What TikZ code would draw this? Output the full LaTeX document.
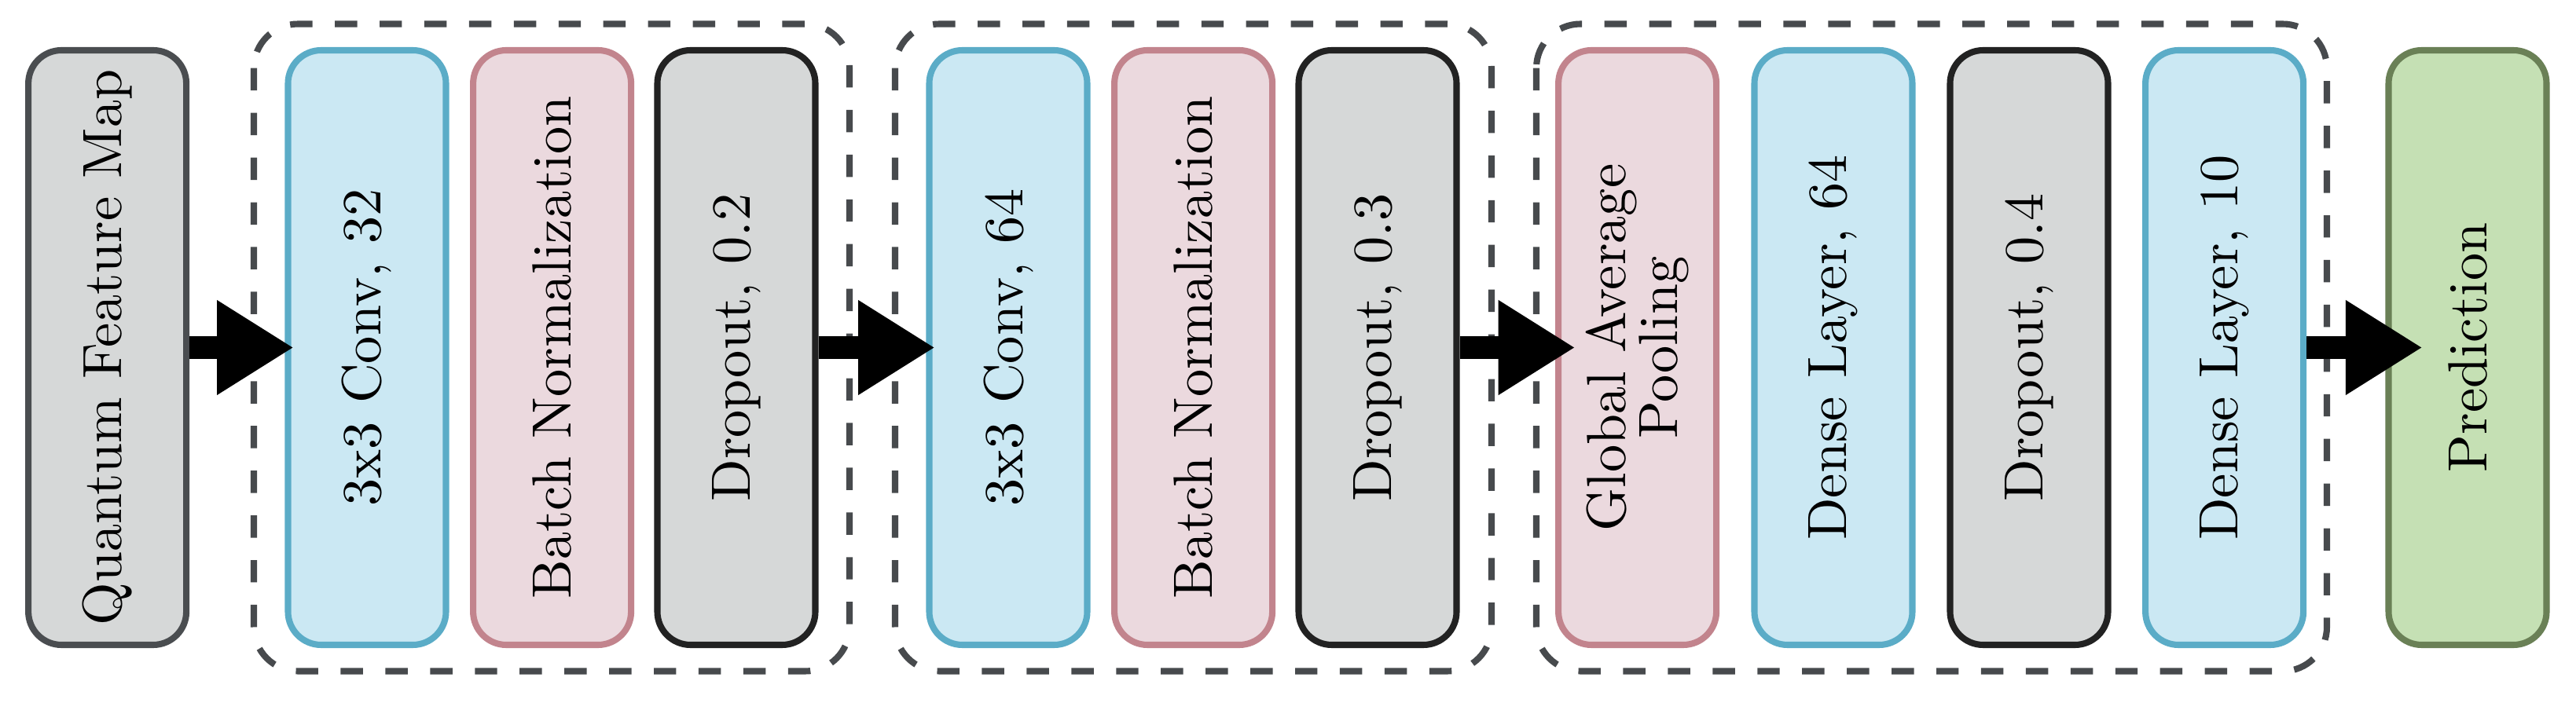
\documentclass[tikz,border=0pt]{standalone}
\usepackage{xcolor}
\usepackage{tikz}
\usetikzlibrary{arrows.meta}

\definecolor{convfill}{HTML}{CBE8F3}
\definecolor{convline}{HTML}{5BACC7}
\definecolor{normfill}{HTML}{EBD9DE}
\definecolor{normline}{HTML}{C2848D}
\definecolor{dropfill}{HTML}{D6D8D8}
\definecolor{dropline}{HTML}{222222}
\definecolor{qfmline}{HTML}{4A4D50}
\definecolor{predfill}{HTML}{C5E0B4}
\definecolor{predline}{HTML}{6A8056}
\definecolor{blockline}{HTML}{474A4D}

\begin{document}
\begin{tikzpicture}[>={Triangle[length=13.9pt, width=16.2pt]},
    layer/.style={rectangle, rounded corners=6pt, draw, line width=1.15pt, minimum width=3.785cm, minimum height=1.005cm, rotate=90, align=center, inner sep=0pt},
    conv/.style={layer, fill=convfill, draw=convline},
    norm/.style={layer, fill=normfill, draw=normline},
    drop/.style={layer, fill=dropfill, draw=dropline},
    link/.style={->, line width=4.1pt},
    block/.style={draw=blockline, line width=1.15pt, dash pattern=on 4.05pt off 4.05pt, rounded corners=8pt}]
    \useasboundingbox (0, 2.2125) rectangle (16.39, -2.2625);
    % dashed stages
    \draw [block] (1.615, 2.06) rectangle (5.405, -2.06);
    \draw [block] (5.695, 2.06) rectangle (9.49, -2.06);
    \draw [block] (9.775, 2.06) rectangle (14.805, -2.06);
    % layers
    \node [layer, fill=dropfill, draw=qfmline] (qfm) at (0.683, 0) {Quantum Feature Map};
    \node [conv] (conv1) at (2.335, 0) {3x3 Conv, 32};
    \node [norm] (norm1) at (3.513, 0) {Batch Normalization};
    \node [drop] (drop1) at (4.685, 0) {Dropout, 0.2};
    \node [conv] (conv2) at (6.415, 0) {3x3 Conv, 64};
    \node [norm] (norm2) at (7.593, 0) {Batch Normalization};
    \node [drop] (drop2) at (8.765, 0) {Dropout, 0.3};
    \node [norm] (gap) at (10.418, 0) {Global Average\\[-2.6pt]Pooling};
    \node [conv] (dense1) at (11.665, 0) {Dense Layer, 64};
    \node [drop] (drop3) at (12.91, 0) {Dropout, 0.4};
    \node [conv] (dense2) at (14.153, 0) {Dense Layer, 10};
    \node [layer, fill=predfill, draw=predline] (pred) at (15.70, 0) {Prediction};
    % arrows between stages
    \draw [link, shorten >=-1.6pt] (qfm) -- (conv1);
    \draw [link, shorten >=-1.6pt] (drop1) -- (conv2);
    \draw [link, shorten >=-3.6pt] (drop2) -- (gap);
    \draw [link, shorten >=-6.7pt] (dense2) -- (pred);
\end{tikzpicture}
\end{document}
